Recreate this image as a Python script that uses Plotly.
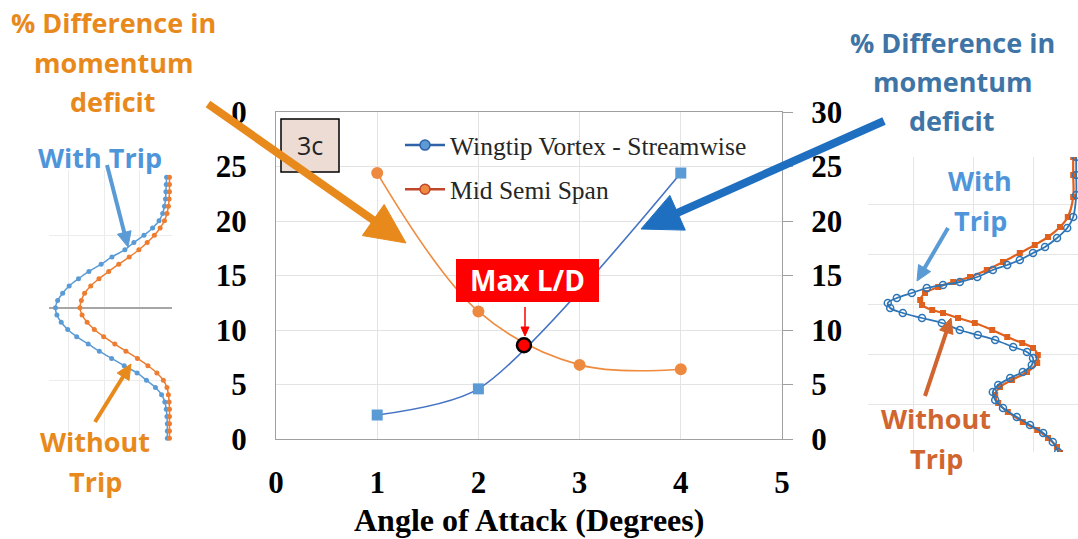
import math
import plotly.graph_objects as go

W, H = 1078, 539

# ---- main chart: % difference in momentum deficit vs angle of attack ----
aoa_wingtip = [1, 2, 4]
wingtip_streamwise = [2.2, 4.6, 24.4]
aoa_mid = [1, 2, 3, 4]
mid_semi_span = [24.4, 11.7, 6.8, 6.4]
max_ld_aoa = [2.45]
max_ld_value = [8.6]

x_ticks = [0, 1, 2, 3, 4, 5]
y_ticks = [0, 5, 10, 15, 20, 25, 30]
left_tick_text = ["0", "5", "10", "15", "20", "25", "0"]
right_tick_text = ["0", "5", "10", "15", "20", "25", "30"]

# ---- left inset: wake profiles (mid semi span) ----
left_z = [1.8, 1.7, 1.6, 1.5, 1.4, 1.3, 1.2, 1.1, 1.0, 0.9, 0.8, 0.7, 0.6,
          0.5, 0.4, 0.3, 0.2, 0.1, 0.0, -0.1, -0.2, -0.3, -0.4, -0.5, -0.6,
          -0.7, -0.8, -0.9, -1.0, -1.1, -1.2, -1.3, -1.4, -1.5, -1.6, -1.7, -1.8]
left_with_trip = [3.74, 3.73, 3.72, 3.71, 3.68, 3.63, 3.53, 3.35, 3.11, 2.83,
                  2.58, 2.22, 1.92, 1.58, 1.29, 1.03, 0.85, 0.71, 0.65, 0.69,
                  0.81, 0.99, 1.24, 1.56, 1.87, 2.21, 2.56, 2.92, 3.18, 3.43,
                  3.60, 3.69, 3.73, 3.75, 3.76, 3.76, 3.76]
left_without_trip = [3.82, 3.82, 3.82, 3.81, 3.79, 3.75, 3.68, 3.56, 3.40, 3.20,
                     2.97, 2.70, 2.41, 2.13, 1.86, 1.63, 1.46, 1.37, 1.33, 1.39,
                     1.53, 1.73, 1.99, 2.30, 2.61, 2.93, 3.22, 3.47, 3.65, 3.75,
                     3.79, 3.81, 3.82, 3.82, 3.82, 3.82, 3.82]

# ---- right inset: wake profiles (wingtip vortex) ----
right_with_trip_z = [2.94, 2.58, 2.18, 1.74, 1.52, 1.32, 1.14, 1.02, 0.88, 0.78,
                     0.68, 0.54, 0.44, 0.38, 0.32, 0.22, 0.12, 0.02, -0.08, -0.18,
                     -0.28, -0.38, -0.52, -0.62, -0.72, -0.86, -0.96, -1.08, -1.22,
                     -1.36, -1.48, -1.62, -1.76, -1.92, -2.08, -2.26, -2.42, -2.58,
                     -2.76, -2.96]
right_with_trip = [3.72, 3.72, 3.72, 3.67, 3.57, 3.40, 3.20, 3.00, 2.78, 2.57,
                   2.33, 2.07, 1.78, 1.50, 1.23, 0.98, 0.73, 0.58, 0.62, 0.83,
                   1.15, 1.48, 1.78, 2.08, 2.37, 2.67, 2.90, 3.00, 2.98, 2.83,
                   2.62, 2.42, 2.33, 2.37, 2.50, 2.73, 2.95, 3.17, 3.33, 3.42]
right_without_trip_z = [2.94, 2.58, 2.14, 1.74, 1.54, 1.34, 1.18, 1.02, 0.84, 0.68,
                        0.54, 0.44, 0.34, 0.22, 0.08, -0.02, -0.12, -0.18, -0.28,
                        -0.38, -0.52, -0.66, -0.78, -0.88, -1.02, -1.18, -1.36,
                        -1.52, -1.66, -1.82, -1.98, -2.16, -2.36, -2.52, -2.68,
                        -2.86, -2.98]
right_without_trip = [3.67, 3.67, 3.67, 3.58, 3.45, 3.25, 3.03, 2.78, 2.50, 2.23,
                      1.95, 1.67, 1.42, 1.20, 1.12, 1.15, 1.32, 1.50, 1.75, 2.03,
                      2.32, 2.57, 2.82, 3.00, 3.08, 3.07, 2.90, 2.65, 2.45, 2.37,
                      2.42, 2.58, 2.83, 3.07, 3.25, 3.40, 3.45]

ORANGE = "#e8891c"
BLUE_DARK = "#1e6fc0"
LIGHT_BLUE = "#5b9bd5"
STEEL = "#3e74a6"
RUST = "#d0652f"

SERIF = "Liberation Serif"
SANS = "Open Sans"


def px(x):
    return x / W


def py(y):
    return 1 - y / H


fig = go.Figure()

# main series (both value axes share the 0-30 scale)
fig.add_trace(go.Scatter(
    x=aoa_wingtip, y=wingtip_streamwise, mode="lines+markers",
    line=dict(color="#4472c4", width=1.6, shape="spline", smoothing=0.75),
    marker=dict(symbol="square", size=11, color=LIGHT_BLUE),
    showlegend=False, cliponaxis=False))
fig.add_trace(go.Scatter(
    x=aoa_mid, y=mid_semi_span, yaxis="y2", mode="lines+markers",
    line=dict(color="#f08a3c", width=1.6, shape="spline"),
    marker=dict(symbol="circle", size=12, color="#ee8a40"),
    showlegend=False, cliponaxis=False))
fig.add_trace(go.Scatter(
    x=max_ld_aoa, y=max_ld_value, yaxis="y2", mode="markers",
    marker=dict(symbol="circle", size=14, color="#ff0000",
                line=dict(color="black", width=2.5)),
    showlegend=False, cliponaxis=False))

# legend entries
fig.add_trace(go.Scatter(
    x=[None], y=[None], mode="lines+markers", name="Wingtip Vortex - Streamwise",
    line=dict(color="#2f62a8", width=2.5),
    marker=dict(symbol="circle", size=10, color=LIGHT_BLUE,
                line=dict(color="#2f62a8", width=1.5)),
    legendgroup="a"))
fig.add_trace(go.Scatter(
    x=[None], y=[None], mode="lines+markers", name="Mid Semi Span",
    line=dict(color="#c0462a", width=2.5),
    marker=dict(symbol="circle", size=10, color="#ee8a40",
                line=dict(color="#c0462a", width=1.5)),
    legendgroup="b"))

# left inset profiles
fig.add_trace(go.Scatter(
    x=left_with_trip, y=left_z, xaxis="x3", yaxis="y3", mode="lines+markers",
    line=dict(color=LIGHT_BLUE, width=1.5, shape="spline"),
    marker=dict(size=5, color=LIGHT_BLUE), showlegend=False))
fig.add_trace(go.Scatter(
    x=left_without_trip, y=left_z, xaxis="x3", yaxis="y3", mode="lines+markers",
    line=dict(color="#ed7d31", width=1.5, shape="spline"),
    marker=dict(size=5, color="#ed7d31"), showlegend=False))

# right inset profiles
fig.add_trace(go.Scatter(
    x=right_without_trip, y=right_without_trip_z, xaxis="x4", yaxis="y4",
    mode="lines+markers",
    line=dict(color="#e0601e", width=2.2, shape="spline"),
    marker=dict(symbol="square", size=6, color="#e0601e"), showlegend=False))
fig.add_trace(go.Scatter(
    x=right_with_trip, y=right_with_trip_z, xaxis="x4", yaxis="y4",
    mode="lines+markers",
    line=dict(color="#2e75b6", width=1.8, shape="spline"),
    marker=dict(symbol="circle-open", size=7, color="#2e75b6",
                line=dict(width=1.5)), showlegend=False))


def arrow(x0, y0, x1, y1, width, head_len, head_w, color):
    dx, dy = x1 - x0, y1 - y0
    length = math.hypot(dx, dy)
    ux, uy = dx / length, dy / length
    bx, by = x1 - ux * head_len, y1 - uy * head_len
    nx, ny = -uy, ux
    shaft = dict(type="line", xref="paper", yref="paper",
                 x0=px(x0), y0=py(y0), x1=px(bx + ux * 2), y1=py(by + uy * 2),
                 line=dict(color=color, width=width))
    p1 = (bx + nx * head_w / 2, by + ny * head_w / 2)
    p2 = (bx - nx * head_w / 2, by - ny * head_w / 2)
    path = "M{},{} L{},{} L{},{} Z".format(px(x1), py(y1), px(p1[0]), py(p1[1]),
                                           px(p2[0]), py(p2[1]))
    head = dict(type="path", xref="paper", yref="paper", path=path,
                fillcolor=color, line=dict(color=color, width=1))
    return [shaft, head]


shapes = [
    dict(type="rect", xref="paper", yref="paper", x0=px(281), x1=px(339),
         y0=py(172), y1=py(119), fillcolor="#ecdcd4",
         line=dict(color="black", width=1.5)),
    dict(type="rect", xref="paper", yref="paper", x0=px(456), x1=px(599),
         y0=py(302), y1=py(259), fillcolor="#ff0000",
         line=dict(color="#ff0000", width=0)),
]
shapes += arrow(208, 104, 406, 243, 8, 40, 38, ORANGE)
shapes += arrow(884, 121, 641, 229, 8, 40, 38, BLUE_DARK)
shapes += arrow(525, 307, 525, 336, 1.5, 9, 8, "#ff0000")
shapes += arrow(107, 165, 128, 247, 4, 15, 14, LIGHT_BLUE)
shapes += arrow(95, 422, 131, 364, 4, 15, 14, ORANGE)
shapes += arrow(948, 228, 917, 281, 4, 15, 14, LIGHT_BLUE)
shapes += arrow(925, 396, 951, 318, 4, 15, 14, RUST)


def label(text, x, y, color, size=27, bold=True, family=SANS):
    return dict(text=text, x=px(x), y=py(y), xref="paper", yref="paper",
                showarrow=False, xanchor="center", yanchor="middle",
                font=dict(family=family, size=size, color=color,
                          weight="bold" if bold else "normal"))


annotations = [
    label("% Difference in", 113, 22, ORANGE),
    label("momentum", 113, 62, ORANGE),
    label("deficit", 113, 101, ORANGE),
    label("% Difference in", 952, 42, STEEL),
    label("momentum", 952, 81, STEEL),
    label("deficit", 952, 120, STEEL),
    label("With Trip", 100, 157, "#4f95da"),
    label("Without", 95, 441, ORANGE),
    label("Trip", 95, 481, ORANGE),
    label("With", 980, 181, "#4f95da"),
    label("Trip", 980, 220, "#4f95da"),
    label("Without", 936, 418, RUST),
    label("Trip", 936, 458, RUST),
    label("3c", 310, 145, "#222222", size=25, bold=False),
    label("Max L/D", 527, 280, "white", size=28),
    label("Angle of Attack (Degrees)", 529, 520, "black", size=32,
          family=SERIF),
]

tick_font = dict(family=SERIF, size=31, color="black", weight="bold")
AX_LINE = "#a0a0a0"
GRID = "#e3e3e3"

fig.update_layout(
    width=W, height=H,
    margin=dict(l=0, r=0, t=0, b=0, autoexpand=False),
    paper_bgcolor="white", plot_bgcolor="rgba(0,0,0,0)",
    shapes=shapes, annotations=annotations,
    showlegend=True,
    legend=dict(x=px(400), y=py(122), xanchor="left", yanchor="top",
                bgcolor="rgba(0,0,0,0)", borderwidth=0, tracegroupgap=8,
                itemwidth=40,
                font=dict(family=SERIF, size=25.5, color="#262626")),
    xaxis=dict(domain=[px(276), px(782)], range=[0, 5], tickvals=x_ticks,
               showgrid=True, gridcolor=GRID, zeroline=False, automargin=False,
               showline=True, linecolor=AX_LINE, linewidth=1.3, mirror=True,
               ticks="", tickfont=tick_font, ticklabelstandoff=16,
               anchor="y"),
    yaxis=dict(domain=[py(439), py(112)], range=[0, 30], tickvals=y_ticks,
               ticktext=left_tick_text, showgrid=True, gridcolor=GRID,
               zeroline=False, showline=True, linecolor=AX_LINE, linewidth=1.3,
               automargin=False,
               ticks="", tickfont=tick_font, ticklabelstandoff=22, anchor="x"),
    yaxis2=dict(overlaying="y", side="right", range=[0, 30], tickvals=y_ticks,
                ticktext=right_tick_text, showgrid=False, zeroline=False,
                showline=True, linecolor=AX_LINE, linewidth=1.3, automargin=False,
                ticks="outside", ticklen=10, tickcolor=AX_LINE,
                tickfont=tick_font, ticklabelstandoff=12, anchor="x"),
    xaxis3=dict(domain=[px(49), px(172)], range=[0.47, 3.89], dtick=1, tick0=0,
                showgrid=True, gridcolor="#ececec", zeroline=False,
                automargin=False,
                showticklabels=False, showline=False, anchor="y3"),
    yaxis3=dict(domain=[py(444), py(170)], range=[-1.88, 1.90], dtick=1, tick0=0,
                showgrid=True, gridcolor="#ececec", zeroline=True,
                zerolinecolor="#a6a6a6", zerolinewidth=2, automargin=False,
                showticklabels=False, showline=False, anchor="x3"),
    xaxis4=dict(domain=[px(868), 1.0], range=[0.25, 3.75], dtick=1, tick0=0,
                showgrid=True, gridcolor="#e6e6e6", zeroline=False,
                automargin=False,
                showticklabels=False, showline=False, anchor="y4"),
    yaxis4=dict(domain=[py(452), py(157)], range=[-2.96, 2.94], dtick=1, tick0=0,
                showgrid=True, gridcolor="#e6e6e6", zeroline=False,
                automargin=False,
                showticklabels=False, showline=False, anchor="x4"),
)

fig.write_html("out.html")
